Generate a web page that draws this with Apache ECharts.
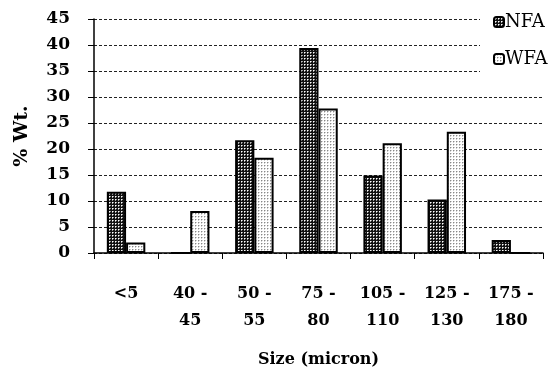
<!DOCTYPE html>
<html><head><meta charset="utf-8">
<script src="https://cdn.jsdelivr.net/npm/echarts@6/dist/echarts.min.js"></script>
<style>html,body{margin:0;padding:0;background:#fff}#c{width:556px;height:377px}</style>
</head><body><div id="c"></div>
<script>
const categories = ['<5', '40 -\n45', '50 -\n55', '75 -\n80', '105 -\n110', '125 -\n130', '175 -\n180'];
const nfaValues = [11.8, 0, 21.7, 39.4, 14.9, 10.3, 2.5];
const wfaValues = [2.0, 8.1, 18.3, 27.8, 21.1, 23.3, 0];
const yTicks = [0, 5, 10, 15, 20, 25, 30, 35, 40, 45];

function makePattern(bg, pts, size) {
  const c = document.createElement('canvas');
  c.width = size; c.height = size;
  const g = c.getContext('2d');
  g.fillStyle = bg; g.fillRect(0, 0, size, size);
  pts.forEach(p => { g.fillStyle = p[2]; g.fillRect(p[0], p[1], 1, 1); });
  return c;
}
const nfaPat = makePattern('#111111', [[1,1,'#ffffff'],[2,1,'#999999'],[1,2,'#999999']], 3);
const wfaPat = makePattern('#ffffff', [[0,0,'#888888'],[1,0,'#d0d0d0'],[0,1,'#d0d0d0']], 3);

const serif = '"DejaVu Serif", "Liberation Serif", serif';
const chart = echarts.init(document.getElementById('c'));
chart.setOption({
  animation: false,
  backgroundColor: '#fff',
  textStyle: { fontFamily: serif, color: '#000' },
  grid: { left: 94, right: 13, top: 19, bottom: 124, containLabel: false },
  legend: {
    orient: 'vertical', left: 480, top: 7, itemGap: 19, itemWidth: 10, itemHeight: 10,
    padding: [6, 2, 8, 13], backgroundColor: '#fff',
    textStyle: { fontFamily: serif, fontSize: 18, color: '#000', padding: [0, 0, 0, -4] },
    data: ['NFA', 'WFA']
  },
  xAxis: {
    type: 'category', data: categories,
    name: 'Size (micron)', nameLocation: 'middle', nameGap: 99,
    nameTextStyle: { fontFamily: serif, fontSize: 16, fontWeight: 'bold', color: '#000' },
    axisLine: { lineStyle: { color: '#000', width: 1.5 } },
    axisTick: { show: true, length: 6, lineStyle: { color: '#000' } },
    axisLabel: { interval: 0, margin: 27, fontFamily: serif, fontSize: 16, fontWeight: 'bold', color: '#000', lineHeight: 27 }
  },
  yAxis: {
    type: 'value', min: 0, max: 45, interval: 5,
    name: '% Wt.', nameLocation: 'middle', nameGap: 62, nameRotate: 90,
    nameTextStyle: { fontFamily: serif, fontSize: 19, fontWeight: 'bold', color: '#000' },
    axisLine: { show: true, lineStyle: { color: '#000', width: 1.5 } },
    axisTick: { show: true, length: 6, lineStyle: { color: '#000' } },
    axisLabel: { margin: 24, fontFamily: serif, fontSize: 17, fontWeight: 'bold', color: '#000',
      formatter: v => yTicks.includes(v) ? String(v) : '' },
    splitLine: { lineStyle: { color: '#222', type: [3, 2], width: 1 } }
  },
  series: [
    { name: 'NFA', type: 'bar', data: nfaValues, barGap: '0%', barCategoryGap: '40%',
      itemStyle: { color: { image: nfaPat, repeat: 'repeat' }, borderColor: '#000', borderWidth: 2 } },
    { name: 'WFA', type: 'bar', data: wfaValues,
      itemStyle: { color: { image: wfaPat, repeat: 'repeat' }, borderColor: '#000', borderWidth: 2 } }
  ]
});
</script></body></html>
